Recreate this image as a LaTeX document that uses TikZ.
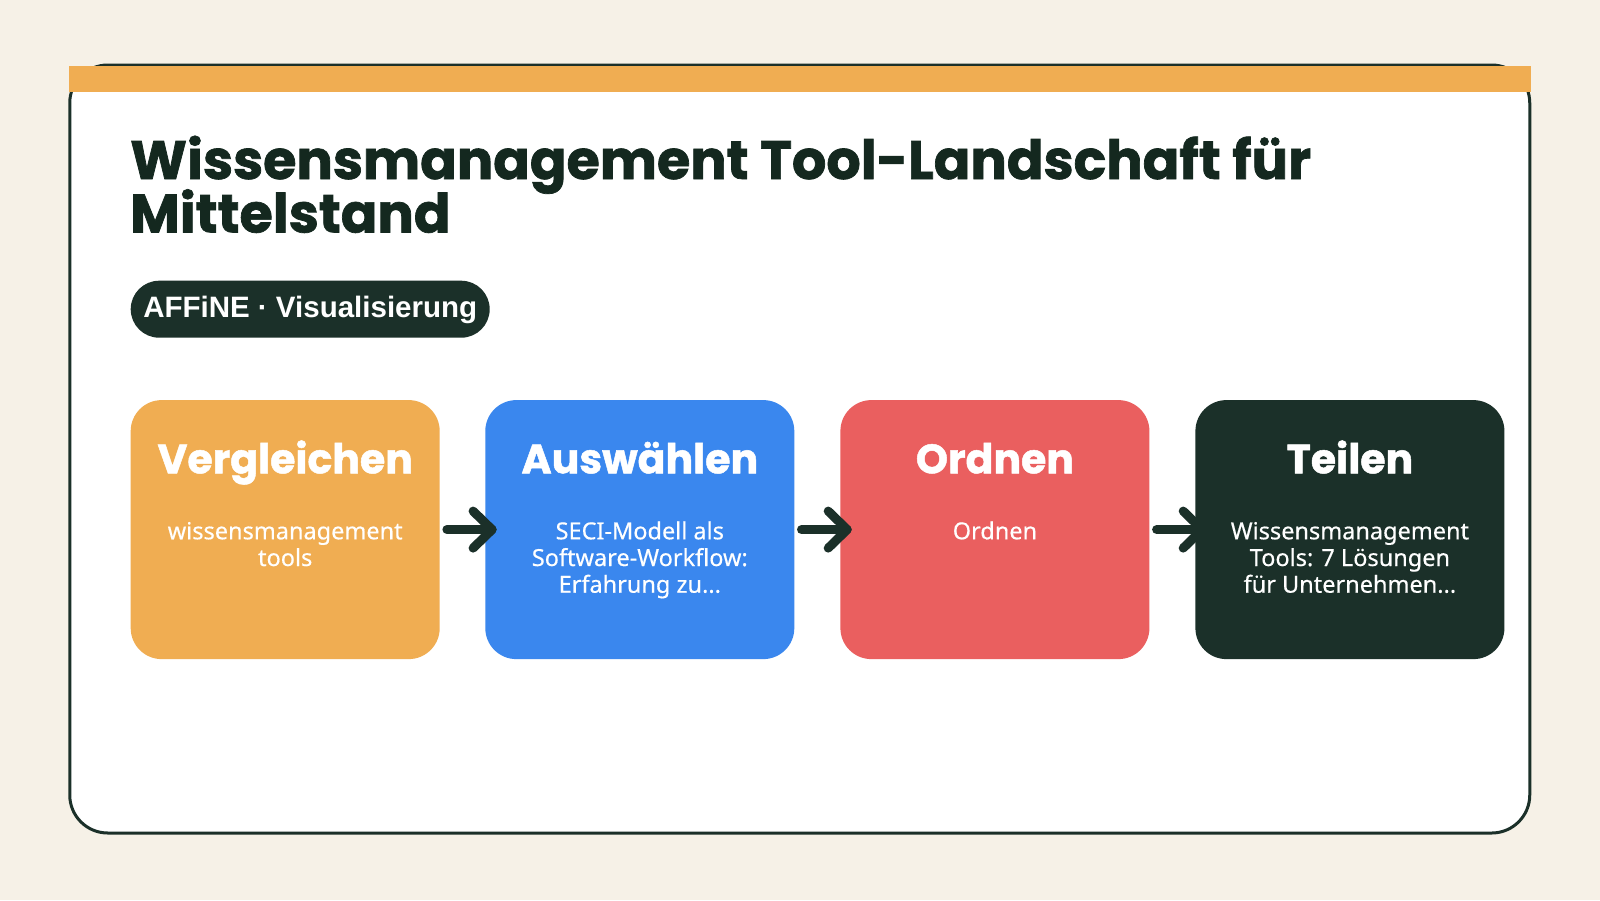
\documentclass[tikz,border=0pt]{standalone}
\usepackage{fontspec}
\setmainfont{Noto Sans}
\newfontfamily\headfont{Poppins}[BoldFeatures={FakeBold=1.2}]
\newfontfamily\titlefont{Poppins}[BoldFeatures={FakeBold=1.3}]
\newfontfamily\bodyfont{Noto Sans}[FakeBold=0.4]
\newfontfamily\pillfont{Liberation Sans}
\definecolor{bgC}{HTML}{F6F1E7}
\definecolor{darkC}{HTML}{1B3029}
\definecolor{titleC}{HTML}{14281F}
\definecolor{orangeC}{HTML}{F0AD52}
\definecolor{blueC}{HTML}{3A87EE}
\definecolor{redC}{HTML}{EA5F5F}
\tikzset{
  card/.style={draw=darkC, line width=3pt, fill=white, rounded corners=38pt, minimum width=1460pt, minimum height=768pt, inner sep=0pt},
  stepbox/.style={rounded corners=31pt, minimum width=309pt, minimum height=259pt, inner sep=0pt},
  head/.style={text=white, font=\headfont\bfseries\fontsize{41}{44}\selectfont, anchor=base, inner sep=0pt},
  sub/.style={text=white, font=\bodyfont\fontsize{23.5}{26.7}\selectfont, anchor=base, inner sep=0pt},
  titletext/.style={anchor=base west, inner sep=0pt, text=titleC, font=\titlefont\bfseries\fontsize{54}{50}\selectfont},
  flow/.style={draw=darkC, line width=9pt, line cap=round, line join=round},
}
\begin{document}
\begin{tikzpicture}[x=1pt,y=-1pt]
\useasboundingbox (0,0) rectangle (1600,900);
\fill[bgC] (0,0) rectangle (1600,900);
\node[card] (card) at (799.75,449) {};
\fill[orangeC] (69,66) rectangle (1531,92);
\node[titletext] (title1) at (130,179) {Wissensmanagement Tool-Landschaft für};
\node[titletext] (title2) at (130,232.5) {Mittelstand};
\node[fill=darkC, rounded corners=28.5pt, minimum width=359pt, minimum height=57pt, inner sep=0pt, text=white, text depth=4pt, font=\pillfont\bfseries\fontsize{29.5}{32}\selectfont] (pill) at (310.2,309.2) {AFFiNE · Visualisierung};
\node[stepbox, fill=orangeC] (b1) at (285.2,529.6) {};
\node[stepbox, fill=blueC] (b2) at (639.8,529.6) {};
\node[stepbox, fill=redC] (b3) at (994.9,529.6) {};
\node[stepbox, fill=darkC] (b4) at (1349.9,529.6) {};
\node[head] (h1) at (285.2,473.3) {Vergleichen};
\node[head] (h2) at (639.8,473.3) {Auswählen};
\node[head] (h3) at (994.9,473.3) {Ordnen};
\node[head] (h4) at (1349.9,473.3) {Teilen};
\node[sub] (s1) at (285.2,539.3) {\setlength{\tabcolsep}{0pt}\begin{tabular}[t]{c}wissensmanagement\\tools\end{tabular}};
\node[sub] (s2) at (639.8,539.3) {\setlength{\tabcolsep}{0pt}\begin{tabular}[t]{c}SECI-Modell als\\Software-Workflow:\\Erfahrung zu...\end{tabular}};
\node[sub] (s3) at (994.9,539.3) {\setlength{\tabcolsep}{0pt}\begin{tabular}[t]{c}Ordnen\end{tabular}};
\node[sub] (s4) at (1349.9,539.3) {\setlength{\tabcolsep}{0pt}\begin{tabular}[t]{c}Wissensmanagement\\Tools: 7 Lösungen\\für Unternehmen...\end{tabular}};
\foreach \a/\b in {b1/b2, b2/b3, b3/b4}{
  \draw[flow] ([xshift=7pt]\a.east) -- ([xshift=7pt]\b.west);
  \draw[flow] ([xshift=-12pt,yshift=18.5pt]\b.west) -- ([xshift=7pt]\b.west) -- ([xshift=-12pt,yshift=-18.5pt]\b.west);
}
\end{tikzpicture}
\end{document}
